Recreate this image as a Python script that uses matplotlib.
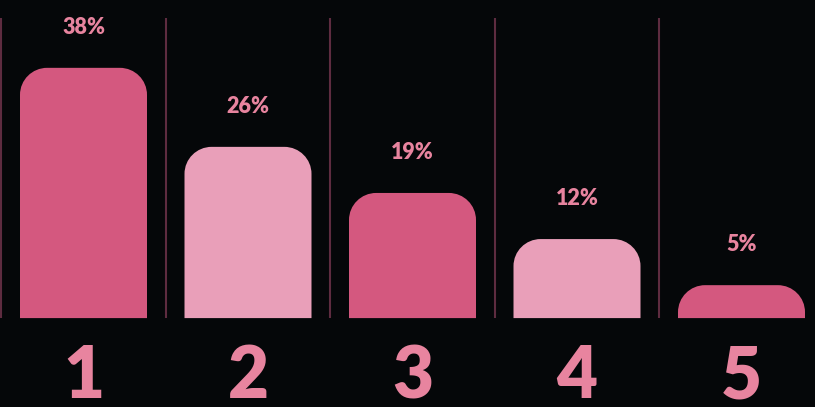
import matplotlib
matplotlib.use("Agg")
import matplotlib.pyplot as plt
from matplotlib.path import Path
from matplotlib.patches import PathPatch

categories = ["1", "2", "3", "4", "5"]
values = [38, 26, 19, 12, 5]
value_labels = ["38%", "26%", "19%", "12%", "5%"]
bar_colors = ["#d4587f", "#e99fb9", "#d4587f", "#e99fb9", "#d4587f"]

BG = "#050709"
LINE = "#5e2c40"
LABEL = "#e8849f"

fig = plt.figure(figsize=(8.15, 4.07), dpi=100, facecolor=BG)
ax = fig.add_axes([0, 0, 1, 1])
ax.set_facecolor(BG)
ax.set_xlim(-0.5076, 4.4468)
ax.set_ylim(-13.5, 48.3)
ax.axis("off")

# separators
for i in range(len(categories)):
    ax.plot([i - 0.5, i - 0.5], [0, 45.6], color=LINE, lw=1.5, solid_capstyle="butt")

width = 0.772
rx, ry = 0.165, 4.1
k = 0.5523

def rounded_bar(xc, h):
    x0, x1 = xc - width / 2, xc + width / 2
    r_y = min(ry, h)
    verts = [
        (x0, 0), (x0, h - r_y),
        (x0, h - r_y + k * r_y), (x0 + rx - k * rx, h), (x0 + rx, h),
        (x1 - rx, h),
        (x1 - rx + k * rx, h), (x1, h - r_y + k * r_y), (x1, h - r_y),
        (x1, 0), (x0, 0),
    ]
    codes = [Path.MOVETO, Path.LINETO,
             Path.CURVE4, Path.CURVE4, Path.CURVE4,
             Path.LINETO,
             Path.CURVE4, Path.CURVE4, Path.CURVE4,
             Path.LINETO, Path.CLOSEPOLY]
    return Path(verts, codes)

for i, (v, c) in enumerate(zip(values, bar_colors)):
    ax.add_patch(PathPatch(rounded_bar(i, v), facecolor=c, edgecolor="none"))
    ax.text(i, v + 6.1, value_labels[i], ha="center", va="center",
            color=LABEL, fontsize=15.5, fontweight="heavy", family="Lato")
    ax.text(i, -9.0, categories[i], ha="center", va="center",
            color=LABEL, fontsize=51, fontweight="heavy", family="Lato")

fig.savefig("out.png", dpi=100, facecolor=BG)
